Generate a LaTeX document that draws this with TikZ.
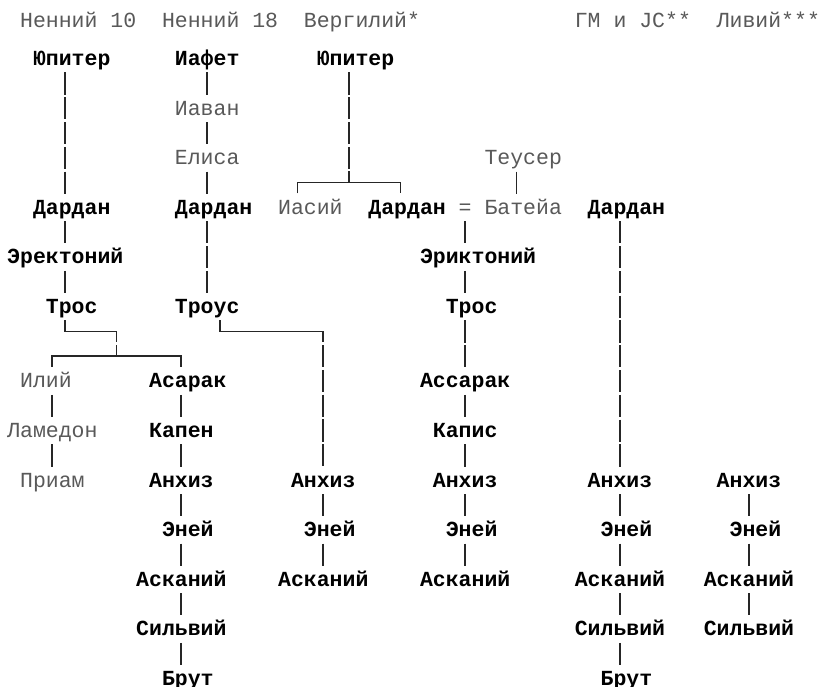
\documentclass[tikz,border=0pt]{standalone}
\usepackage{fontspec}
\setmonofont{Liberation Mono}
\usetikzlibrary{calc}
\newcommand{\gcx}[1]{7+12.9*(#1)}
\newcommand{\gry}[1]{58.5+24.8*(#1)}
\tikzset{
  nm/.style={anchor=west, inner sep=0pt, minimum height=24.8pt, text height=14pt, text depth=0pt},
  bn/.style={nm, font={\ttfamily\bfseries\fontsize{21.5}{24.8}\selectfont}, text=black},
  rn/.style={nm, font={\ttfamily\fontsize{21.5}{24.8}\selectfont}, text=black!65},
  hd/.style={anchor=base west, inner sep=0pt, font={\ttfamily\fontsize{21.5}{24.8}\selectfont}, text=black!65},
  vbar/.style={line width=1.5pt, draw=black!85, dash pattern=on 22.1pt off 2.7pt, dash phase=23.45pt},
  tree/.style={line width=1.5pt, draw=black!85},
}
\begin{document}
\begin{tikzpicture}[x=1pt, y=-1pt]
\useasboundingbox (0,0) rectangle (818,687);
\fill[white] (0,0) rectangle (818,687);

% bar columns and rows
\foreach \c in {3,4,8,13,15,16,22,24,26,30,35,39,47,57}
  \coordinate (k\c) at ({\gcx{\c+0.5}},0);
\foreach \r in {5,11,12}
  \coordinate (r\r) at (0,{\gry{\r}});

% headers
\node[hd] (h1) at ({\gcx{1}},28) {Ненний 10};
\node[hd] (h2) at ({\gcx{12}},28) {Ненний 18};
\node[hd] (h3) at ({\gcx{23}},28) {Вергилий*};
\node[hd] (h4) at ({\gcx{44}},28) {ГМ и JC**};
\node[hd] (h5) at ({\gcx{55}},28) {Ливий***};

% Nennius 10
\node[bn] (J1) at ({\gcx{2}},{\gry{0}}) {Юпитер};
\node[bn] (D1) at ({\gcx{2}},{\gry{6}}) {Дардан};
\node[bn] (E1) at ({\gcx{0}},{\gry{8}}) {Эректоний};
\node[bn] (T1) at ({\gcx{3}},{\gry{10}}) {Трос};
\node[rn] (Il) at ({\gcx{1}},{\gry{13}}) {Илий};
\node[rn] (Lm) at ({\gcx{0}},{\gry{15}}) {Ламедон};
\node[rn] (Pr) at ({\gcx{1}},{\gry{17}}) {Приам};
\node[bn] (As1) at ({\gcx{11}},{\gry{13}}) {Асарак};
\node[bn] (Kp1) at ({\gcx{11}},{\gry{15}}) {Капен};
\node[bn] (An1) at ({\gcx{11}},{\gry{17}}) {Анхиз};
\node[bn] (En1) at ({\gcx{12}},{\gry{19}}) {Эней};
\node[bn] (Ak1) at ({\gcx{10}},{\gry{21}}) {Асканий};
\node[bn] (Sv1) at ({\gcx{10}},{\gry{23}}) {Сильвий};
\node[bn] (Br1) at ({\gcx{12}},{\gry{25}}) {Брут};

% Nennius 18
\node[bn] (Ia) at ({\gcx{13}},{\gry{0}}) {Иафет};
\node[rn] (Iv) at ({\gcx{13}},{\gry{2}}) {Иаван};
\node[rn] (El) at ({\gcx{13}},{\gry{4}}) {Елиса};
\node[bn] (D2) at ({\gcx{13}},{\gry{6}}) {Дардан};
\node[bn] (T2) at ({\gcx{13}},{\gry{10}}) {Троус};
\node[bn] (An2) at ({\gcx{22}},{\gry{17}}) {Анхиз};
\node[bn] (En2) at ({\gcx{23}},{\gry{19}}) {Эней};
\node[bn] (Ak2) at ({\gcx{21}},{\gry{21}}) {Асканий};

% Vergil
\node[bn] (J3) at ({\gcx{24}},{\gry{0}}) {Юпитер};
\node[rn] (Is) at ({\gcx{21}},{\gry{6}}) {Иасий};
\node[bn] (D3) at ({\gcx{28}},{\gry{6}}) {Дардан};
\node[rn] (eq) at ({\gcx{35}},{\gry{6}}) {=};
\node[rn] (Bt) at ({\gcx{37}},{\gry{6}}) {Батейа};
\node[rn] (Te) at ({\gcx{37}},{\gry{4}}) {Теусер};
\node[bn] (E3) at ({\gcx{32}},{\gry{8}}) {Эриктоний};
\node[bn] (T3) at ({\gcx{34}},{\gry{10}}) {Трос};
\node[bn] (As3) at ({\gcx{32}},{\gry{13}}) {Ассарак};
\node[bn] (Kp3) at ({\gcx{33}},{\gry{15}}) {Капис};
\node[bn] (An3) at ({\gcx{33}},{\gry{17}}) {Анхиз};
\node[bn] (En3) at ({\gcx{34}},{\gry{19}}) {Эней};
\node[bn] (Ak3) at ({\gcx{32}},{\gry{21}}) {Асканий};

% GM and JC
\node[bn] (D4) at ({\gcx{45}},{\gry{6}}) {Дардан};
\node[bn] (An4) at ({\gcx{45}},{\gry{17}}) {Анхиз};
\node[bn] (En4) at ({\gcx{46}},{\gry{19}}) {Эней};
\node[bn] (Ak4) at ({\gcx{44}},{\gry{21}}) {Асканий};
\node[bn] (Sv4) at ({\gcx{44}},{\gry{23}}) {Сильвий};
\node[bn] (Br4) at ({\gcx{46}},{\gry{25}}) {Брут};

% Livy
\node[bn] (An5) at ({\gcx{55}},{\gry{17}}) {Анхиз};
\node[bn] (En5) at ({\gcx{56}},{\gry{19}}) {Эней};
\node[bn] (Ak5) at ({\gcx{54}},{\gry{21}}) {Асканий};
\node[bn] (Sv5) at ({\gcx{54}},{\gry{23}}) {Сильвий};

% --- connectors: Nennius 10
\draw[vbar] (J1.south -| k4) -- (D1.north -| k4);
\draw[vbar] (D1.south -| k4) -- (E1.north -| k4);
\draw[vbar] (E1.south -| k4) -- (T1.north -| k4);
\draw[tree] ($(T1.south -| k4)+(0,1.35)$) -- (k4 |- r11) -- (k8 |- r11) -- ($(k8 |- r11)+(0,11.05)$);
\draw[tree] ($(k8 |- r12)+(0,-11.05)$) -- (k8 |- r12);
\draw[tree] ($(Il.north -| k3)+(0,-1.35)$) -- (k3 |- r12) -- (k13 |- r12) -- ($(As1.north -| k13)+(0,-1.35)$);
\draw[vbar] (Il.south -| k3) -- (Lm.north -| k3);
\draw[vbar] (Lm.south -| k3) -- (Pr.north -| k3);
\draw[vbar] (As1.south -| k13) -- (Kp1.north -| k13);
\draw[vbar] (Kp1.south -| k13) -- (An1.north -| k13);
\draw[vbar] (An1.south -| k13) -- (En1.north -| k13);
\draw[vbar] (En1.south -| k13) -- (Ak1.north -| k13);
\draw[vbar] (Ak1.south -| k13) -- (Sv1.north -| k13);
\draw[vbar] (Sv1.south -| k13) -- (Br1.north -| k13);

% --- Nennius 18
\draw[vbar] (Ia.south -| k15) -- (Iv.north -| k15);
\draw[vbar] (Iv.south -| k15) -- (El.north -| k15);
\draw[vbar] (El.south -| k15) -- (D2.north -| k15);
\draw[vbar] (D2.south -| k15) -- (T2.north -| k15);
\draw[tree] ($(T2.south -| k16)+(0,1.35)$) -- (k16 |- r11) -- (k24 |- r11) -- ($(k24 |- r11)+(0,11.05)$);
\draw[vbar] ($(k24 |- r11)+(0,12.4)$) -- (An2.north -| k24);
\draw[vbar] (An2.south -| k24) -- (En2.north -| k24);
\draw[vbar] (En2.south -| k24) -- (Ak2.north -| k24);

% --- Vergil
\draw[vbar] (J3.south -| k26) -- ($(k26 |- r5)+(0,-12.4)$);
\draw[tree] ($(k26 |- r5)+(0,-11.05)$) -- (k26 |- r5);
\draw[tree] ($(Is.north -| k22)+(0,-1.35)$) -- (k22 |- r5) -- (k30 |- r5) -- ($(D3.north -| k30)+(0,-1.35)$);
\draw[vbar] (Te.south -| k39) -- (Bt.north -| k39);
\draw[vbar] (eq.south -| k35) -- (E3.north -| k35);
\draw[vbar] (E3.south -| k35) -- (T3.north -| k35);
\draw[vbar] (T3.south -| k35) -- (As3.north -| k35);
\draw[vbar] (As3.south -| k35) -- (Kp3.north -| k35);
\draw[vbar] (Kp3.south -| k35) -- (An3.north -| k35);
\draw[vbar] (An3.south -| k35) -- (En3.north -| k35);
\draw[vbar] (En3.south -| k35) -- (Ak3.north -| k35);

% --- GM and JC
\draw[vbar] (D4.south -| k47) -- (An4.north -| k47);
\draw[vbar] (An4.south -| k47) -- (En4.north -| k47);
\draw[vbar] (En4.south -| k47) -- (Ak4.north -| k47);
\draw[vbar] (Ak4.south -| k47) -- (Sv4.north -| k47);
\draw[vbar] (Sv4.south -| k47) -- (Br4.north -| k47);

% --- Livy
\draw[vbar] (An5.south -| k57) -- (En5.north -| k57);
\draw[vbar] (En5.south -| k57) -- (Ak5.north -| k57);
\draw[vbar] (Ak5.south -| k57) -- (Sv5.north -| k57);
\end{tikzpicture}
\end{document}
